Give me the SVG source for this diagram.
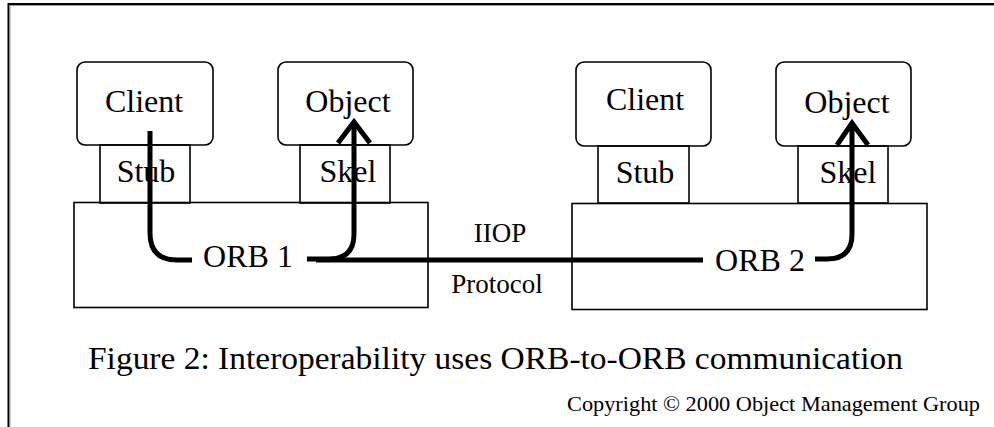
<svg xmlns="http://www.w3.org/2000/svg" width="994" height="427" viewBox="0 0 994 427">
<defs>
<style>
.box{fill:none;stroke:#000;stroke-width:1.6}
.lbl{font-family:"Liberation Serif","Times New Roman",serif;font-size:32px;fill:#000;text-anchor:middle}
.sm{font-family:"Liberation Serif","Times New Roman",serif;font-size:27px;fill:#000;text-anchor:middle}
.conn{fill:none;stroke:#000;stroke-width:5;stroke-linejoin:miter}
</style>
</defs>
<rect x="0" y="0" width="994" height="427" fill="#fff"/>
<g id="frame">
<path d="M8.5 427 V4 H994" fill="none" stroke="#000" stroke-width="2"/>
<path d="M10 427 V5.5 H994" fill="none" stroke="#999" stroke-width="1"/>
</g>
<g id="orb1">
<rect class="box" x="74" y="202.5" width="354" height="105"/>
<text class="lbl" x="248" y="267">ORB 1</text>
</g>
<g id="client1">
<rect class="box" x="77" y="62" width="136" height="83" rx="8"/>
<text class="lbl" x="144" y="112">Client</text>
</g>
<g id="stub1">
<rect class="box" x="100" y="145" width="90" height="58"/>
<text class="lbl" x="146" y="182">Stub</text>
</g>
<g id="object1">
<rect class="box" x="278" y="62" width="135" height="83" rx="8"/>
<text class="lbl" x="348" y="112">Object</text>
</g>
<g id="skel1">
<rect class="box" x="300" y="145" width="90" height="58"/>
<text class="lbl" x="348" y="182">Skel</text>
</g>
<g id="orb2">
<rect class="box" x="572" y="203.5" width="355" height="106"/>
<text class="lbl" x="760" y="271">ORB 2</text>
</g>
<g id="client2">
<rect class="box" x="576" y="62" width="135" height="84" rx="8"/>
<text class="lbl" x="645" y="110">Client</text>
</g>
<g id="stub2">
<rect class="box" x="598" y="146" width="91" height="57"/>
<text class="lbl" x="645" y="183">Stub</text>
</g>
<g id="object2">
<rect class="box" x="776" y="62" width="135" height="84" rx="8"/>
<text class="lbl" x="847" y="113">Object</text>
</g>
<g id="skel2">
<rect class="box" x="798" y="146" width="90" height="57"/>
<text class="lbl" x="848" y="183">Skel</text>
</g>
<g id="connectors">
<path class="conn" d="M150 131 V233 Q150 260 177 260 H192"/>
<path class="conn" d="M307 259 H329 Q354 259 354 234 V124"/>
<polyline class="conn" points="338,143 354,122 370,143"/>
<path class="conn" d="M316 260 H703"/>
<path class="conn" d="M815 259 H827 Q852 259 852 234 V125"/>
<polyline class="conn" points="837,145 852,123 868,145"/>
</g>
<g id="labels">
<text class="sm" x="500" y="242">IIOP</text>
<text class="sm" x="497" y="293">Protocol</text>
<text class="lbl" x="88" y="369" style="text-anchor:start" textLength="815" lengthAdjust="spacingAndGlyphs">Figure 2: Interoperability uses ORB-to-ORB communication</text>
<text x="567" y="411" style="font-family:'Liberation Serif','Times New Roman',serif;font-size:21px" textLength="413" lengthAdjust="spacingAndGlyphs">Copyright © 2000 Object Management Group</text>
</g>
</svg>
